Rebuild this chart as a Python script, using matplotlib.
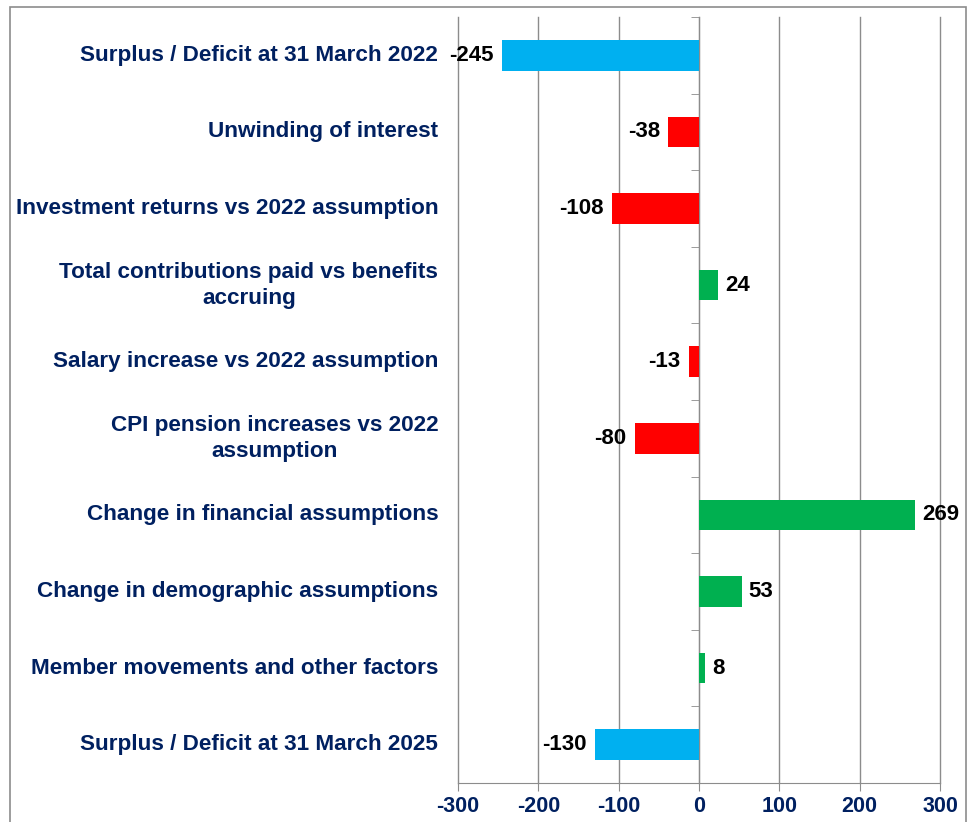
import matplotlib
matplotlib.use("Agg")
import matplotlib.pyplot as plt
import matplotlib.patches as patches
import matplotlib.transforms as mtransforms
import numpy as np

plt.rcParams['font.family'] = ['Liberation Sans', 'DejaVu Sans']

# Data
categories = [
    "Surplus / Deficit at 31 March 2022",
    "Unwinding of interest",
    "Investment returns vs 2022 assumption",
    "Total contributions paid vs benefits\naccruing",
    "Salary increase vs 2022 assumption",
    "CPI pension increases vs 2022\nassumption",
    "Change in financial assumptions",
    "Change in demographic assumptions",
    "Member movements and other factors",
    "Surplus / Deficit at 31 March 2025",
]
values = [-245, -38, -108, 24, -13, -80, 269, 53, 8, -130]
kinds = ["total", "move", "move", "move", "move", "move", "move", "move", "move", "total"]
x_ticks = [-300, -200, -100, 0, 100, 200, 300]

navy = "#002060"
grey = "#8c8c8c"


def bar_colour(v, k):
    if k == "total":
        return "#00B0F0"
    return "#00B050" if v > 0 else "#FF0000"


colours = [bar_colour(v, k) for v, k in zip(values, kinds)]

fig = plt.figure(figsize=(9.71, 8.22), dpi=100)
ax = fig.add_axes([0.4717, 0.0474, 0.4964, 0.9319])

y = np.arange(len(categories))
ax.barh(y, values, height=0.4, color=colours, zorder=3)

ax.set_xlim(-300, 300)
ax.set_ylim(len(categories) - 0.5, -0.5)
ax.set_xticks(x_ticks)
ax.set_xticklabels([str(t) for t in x_ticks], fontsize=15.5, fontweight='bold', color=navy)
ax.tick_params(axis='x', length=6, color=grey, pad=3)

# y axis sits at zero, ticks between categories
ax.spines['left'].set_position(('data', 0))
ax.spines['left'].set_color(grey)
ax.spines['bottom'].set_color(grey)
ax.spines['top'].set_visible(False)
ax.spines['right'].set_visible(False)
ax.set_yticks([])
ax.set_yticks(np.arange(len(categories) + 1) - 0.5, minor=True)
ax.tick_params(axis='y', which='minor', length=6, color=grey, direction='out')
ax.grid(axis='x', color=grey, linewidth=1, zorder=0)
for gl in ax.get_xgridlines():
    gl.set_clip_on(False)

# category labels
trans = mtransforms.blended_transform_factory(ax.transAxes, ax.transData)
for yi, name in zip(y, categories):
    ax.text(-0.041, yi, name, transform=trans, ha='right', va='center',
            multialignment='center', linespacing=1.3,
            fontsize=16.2, fontweight='bold', color=navy)

# value labels
for yi, v in zip(y, values):
    if v < 0:
        ax.annotate(str(v), (v, yi), xytext=(-6, 0), textcoords='offset points',
                    ha='right', va='center', fontsize=16, fontweight='bold', color='black')
    else:
        ax.annotate(str(v), (v, yi), xytext=(5, 0), textcoords='offset points',
                    ha='left', va='center', fontsize=16, fontweight='bold', color='black')

# outer border
fig.patches.append(patches.Rectangle((10 / 971, -0.02), 956 / 971, 1.02 - 7 / 822,
                                     transform=fig.transFigure, fill=False,
                                     edgecolor=grey, linewidth=1.2))

fig.savefig("out.png", dpi=100)
